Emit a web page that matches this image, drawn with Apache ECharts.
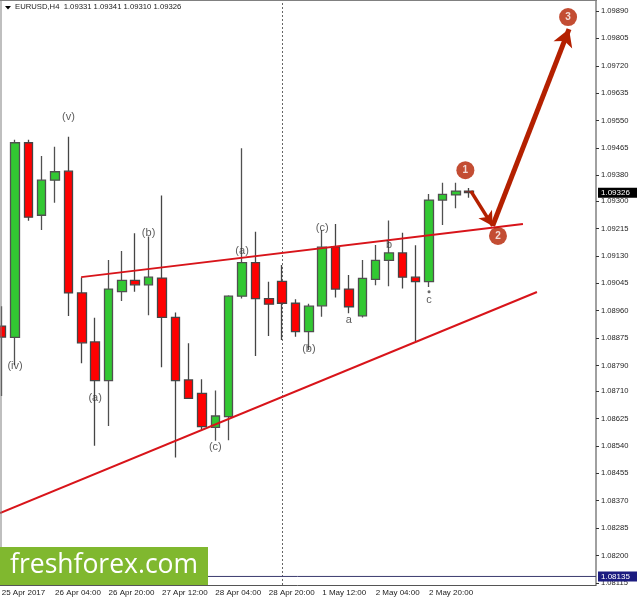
<!DOCTYPE html>
<html><head><meta charset="utf-8">
<style>html,body{margin:0;padding:0;background:#fff}#c{width:637px;height:599px}</style>
<script src="https://cdn.jsdelivr.net/npm/echarts@6/dist/echarts.min.js"></script>
</head><body><div id="c"></div>
<script>
const tickLabels = ['25 Apr 2017','26 Apr 04:00','26 Apr 20:00','27 Apr 12:00','28 Apr 04:00','28 Apr 20:00','1 May 12:00','2 May 04:00','2 May 20:00'];
const yLabels = [1.09890,1.09805,1.09720,1.09635,1.09550,1.09465,1.09380,1.09300,1.09215,1.09130,1.09045,1.08960,1.08875,1.08790,1.08710,1.08625,1.08540,1.08455,1.08370,1.08285,1.08200,1.08115];
const opens  = [1.08912,1.08877,1.09481,1.09256,1.09365,1.09393,1.09015,1.08863,1.08743,1.09019,1.09054,1.09040,1.09061,1.08939,1.08745,1.08703,1.08598,1.08631,1.09005,1.09109,1.08997,1.09051,1.08983,1.08895,1.08975,1.09158,1.09027,1.08944,1.09057,1.09116,1.09139,1.09064,1.09050,1.09303,1.09319,1.09331];
const closes = [1.08878,1.09481,1.09250,1.09365,1.09391,1.09015,1.08860,1.08743,1.09027,1.09054,1.09040,1.09064,1.08939,1.08743,1.08688,1.08600,1.08633,1.09005,1.09109,1.08997,1.08980,1.08983,1.08895,1.08974,1.09157,1.09027,1.08972,1.09060,1.09116,1.09139,1.09064,1.09050,1.09303,1.09321,1.09331,1.09326];
const lows   = [1.08695,1.08791,1.09239,1.09210,1.09295,1.08943,1.08797,1.08541,1.08602,1.08990,1.09019,1.08946,1.08784,1.08504,1.08686,1.08590,1.08556,1.08558,1.08998,1.08819,1.08881,1.08869,1.08879,1.08838,1.08941,1.09001,1.08952,1.08939,1.09039,1.09036,1.09029,1.08866,1.09033,1.09226,1.09278,1.09310];
const highs  = [1.08974,1.09490,1.09490,1.09440,1.09469,1.09500,1.09063,1.08938,1.09117,1.09145,1.09200,1.09190,1.09317,1.08954,1.08859,1.08747,1.08712,1.09008,1.09464,1.09205,1.09050,1.09102,1.08995,1.08981,1.09210,1.09229,1.09071,1.09117,1.09164,1.09240,1.09202,1.09163,1.09322,1.09357,1.09357,1.09341];
const waveIdx   = [5,1,7,11,18,16,23,24,26,29,32];
const wavePrice = [1.09561,1.08788,1.08689,1.09201,1.09145,1.08537,1.08841,1.09216,1.08931,1.09164,1.08993];
const waveText  = ['(v)','(iv)','(a)','(b)','(a)','(c)','(b)','(c)','a','b','c'];
const upperLineX = [5.95,39.03], upperLineY = [1.09064,1.09229];
const lowerLineX = [-0.125,40.08], lowerLineY = [1.08332,1.09018];
const pathX = [35.13,36.76,42.48], pathY = [1.09331,1.09223,1.09834];
const badgeX = [34.72,37.16,42.41], badgeY = [1.09396,1.09192,1.09871], badgeText = ['1','2','3'];
const dotIdx = 32, dotPrice = 1.09019;
const lastPrice = 1.09326, bidPrice = 1.08135;
const cursorIdx = 21;
const slotCount = 45;
const xStart = -0.5, xEnd = 44.5;

const categories = Array.from({length:slotCount},(_,i)=> i%4===0 ? (tickLabels[i/4]||'') : '');
const tickIdx = tickLabels.map((_,i)=>i*4);
const candle = opens.map((o,i)=>[o,closes[i],lows[i],highs[i]]);
const RED='#d8141a', ARROW='#b42000';
const chart = echarts.init(document.getElementById('c'),null,{renderer:'canvas'});
const lineSeries=(xs,ys)=>({type:'line',xAxisIndex:1,yAxisIndex:0,symbol:'none',silent:true,z:5,
  lineStyle:{color:RED,width:2},data:xs.map((x,i)=>[x,ys[i]])});
const priceLine=(price,bg,lineStyle)=>({type:'line',xAxisIndex:1,yAxisIndex:0,symbol:'none',silent:true,z:15,clip:false,
  lineStyle,data:[[xStart,price],[xEnd,price]],
  endLabel:{show:true,distance:2,formatter:()=>price.toFixed(5),color:'#fff',backgroundColor:bg,
    fontFamily:'Liberation Sans',fontSize:8,padding:[1,3,1,3],width:33,lineHeight:8}});
chart.setOption({
  animation:false,
  backgroundColor:'#fff',
  grid:{left:-5,right:41,top:1,bottom:14,containLabel:false,outerBoundsMode:'none'},
  xAxis:[
    {type:'category',data:categories,boundaryGap:true,
     axisLine:{lineStyle:{color:'#555',width:1}},
     axisTick:{alignWithLabel:true,length:3,customValues:tickIdx,lineStyle:{color:'#333'}},
     axisLabel:{customValues:tickIdx,align:'left',margin:4,fontFamily:'Liberation Sans',fontSize:8,color:'#222',hideOverlap:false},
     splitLine:{show:false}},
    {type:'value',min:xStart,max:xEnd,show:false,splitLine:{show:false}}
  ],
  yAxis:[{type:'value',position:'right',min:1.081085,max:1.09921,scale:true,
     axisLine:{show:true,onZero:false,lineStyle:{color:'#808080',width:1.5}},
     axisTick:{show:true,length:3,customValues:yLabels,lineStyle:{color:'#333'}},
     axisLabel:{customValues:yLabels,margin:5,fontFamily:'Liberation Sans',fontSize:7.6,color:'#222',formatter:v=>v.toFixed(5),showMinLabel:true,showMaxLabel:true},
     splitLine:{show:false}}],
  series:[
    {type:'candlestick',xAxisIndex:0,yAxisIndex:0,barWidth:9,silent:true,z:3,data:candle,
     clip:true,
     itemStyle:{color:'#32c832',color0:'#ff0000',borderColor:'#505050',borderColor0:'#454545',borderWidth:1.3},
     markLine:{silent:true,symbol:'none',z:2,animation:false,data:[
        {xAxis:cursorIdx,lineStyle:{color:'#666',type:[2,2],width:1},label:{show:false}}
     ]}},
    priceLine(bidPrice,'#1c1c80',{color:'#3a3a6e',width:1}),
    priceLine(lastPrice,'#000',{color:'#000',width:0,opacity:0}),
    lineSeries(upperLineX,upperLineY),
    lineSeries(lowerLineX,lowerLineY),
    {type:'line',xAxisIndex:1,yAxisIndex:0,symbol:'none',silent:true,z:6,lineStyle:{opacity:0},data:[],
     markLine:{silent:true,symbol:['none','arrow'],animation:false,precision:5,data:[
       [{coord:[pathX[0],pathY[0]],lineStyle:{color:ARROW,width:3.5,type:'solid'}},{coord:[pathX[1],pathY[1]],symbolSize:[12,14]}],
       [{coord:[pathX[1],pathY[1]],lineStyle:{color:ARROW,width:5,type:'solid'}},{coord:[pathX[2],pathY[2]],symbolSize:[15,17]}]
     ],label:{show:false}}},
    {type:'scatter',xAxisIndex:0,yAxisIndex:0,symbolSize:1,silent:true,z:7,itemStyle:{color:'rgba(0,0,0,0)'},
     data:waveIdx.map((x,i)=>({value:[x,wavePrice[i]],label:{formatter:waveText[i]}})),
     label:{show:true,position:'inside',color:'#333',fontFamily:'Liberation Sans',fontSize:11}},
    {type:'scatter',xAxisIndex:0,yAxisIndex:0,symbolSize:3,silent:true,z:7,itemStyle:{color:'#444'},data:[[dotIdx,dotPrice]]},
    {type:'scatter',xAxisIndex:1,yAxisIndex:0,symbolSize:18,silent:true,z:8,itemStyle:{color:ARROW},
     data:badgeX.map((x,i)=>({value:[x,badgeY[i]],label:{formatter:badgeText[i]}})),
     label:{show:true,position:'inside',color:'#fff',fontWeight:'bold',fontFamily:'Liberation Sans',fontSize:10}}
  ],
  graphic:[
    {type:'rect',silent:true,z:20,shape:{x:0.5,y:0,width:1,height:585},style:{fill:'#808080'}},
    {type:'rect',silent:true,z:20,shape:{x:0,y:0,width:597,height:1},style:{fill:'#808080'}},
    {type:'polygon',silent:true,z:20,shape:{points:[[5,6],[11,6],[8,9.5]]},style:{fill:'#000'}},
    {type:'text',silent:true,z:20,x:15,y:3,style:{text:'EURUSD,H4  1.09331 1.09341 1.09310 1.09326',fill:'#222',font:'7.7px "Liberation Sans"'}},
    {type:'rect',silent:true,z:30,shape:{x:0,y:547,width:208,height:38},style:{fill:'#80b82f'}},
    {type:'text',silent:true,z:31,x:10,y:552,style:{text:'freshforex.com',fill:'#fff',font:'26.5px "Open Sans"'}}
  ]
});
</script></body></html>
